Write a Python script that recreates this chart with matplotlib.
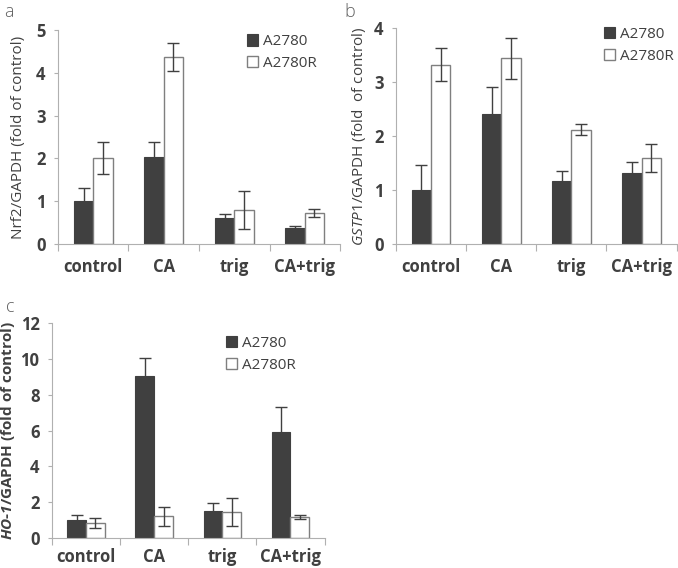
import matplotlib.pyplot as plt
import numpy as np

plt.rcParams['font.family'] = ['Open Sans', 'DejaVu Sans']
plt.rcParams['mathtext.fontset'] = 'custom'
plt.rcParams['mathtext.it'] = 'Open Sans:italic'
plt.rcParams['mathtext.rm'] = 'Open Sans'
has_bfit = 'mathtext.bfit' in plt.rcParams
if has_bfit:
    plt.rcParams['mathtext.bfit'] = 'Open Sans:italic:bold'

# Data
groups = ['control', 'CA', 'trig', 'CA+trig']
series = ['A2780', 'A2780R']

nrf2_a2780 = [1.0, 2.03, 0.6, 0.37]
nrf2_a2780_err = [0.3, 0.35, 0.11, 0.06]
nrf2_a2780r = [2.01, 4.37, 0.8, 0.72]
nrf2_a2780r_err = [0.38, 0.33, 0.45, 0.09]

gstp1_a2780 = [1.0, 2.4, 1.17, 1.31]
gstp1_a2780_err = [0.46, 0.51, 0.19, 0.21]
gstp1_a2780r = [3.32, 3.44, 2.12, 1.6]
gstp1_a2780r_err = [0.31, 0.38, 0.1, 0.26]

ho1_a2780 = [1.0, 9.05, 1.52, 5.9]
ho1_a2780_err = [0.28, 1.0, 0.45, 1.43]
ho1_a2780r = [0.85, 1.22, 1.44, 1.18]
ho1_a2780r_err = [0.27, 0.53, 0.78, 0.12]

dark = '#404040'
edge = '#7f7f7f'
txt = '#404040'
axis_col = '#b0b0b0'

fig = plt.figure(figsize=(6.78, 5.68), dpi=100)


def panel(rect, v1, e1, v2, e2, ymax, ystep, ylabel, ylab_x, ylab_weight,
          letter, letter_pos, leg_pos, xpad=10):
    ax = fig.add_axes(rect)
    idx = np.arange(len(groups)) + 0.5
    w = 0.275
    ax.bar(idx - w / 2, v1, w, color=dark, edgecolor=dark, linewidth=0.8,
           yerr=e1, error_kw=dict(ecolor=dark, capsize=4, elinewidth=1, capthick=1),
           label=series[0], zorder=2)
    ax.bar(idx + w / 2, v2, w, color='white', edgecolor=edge, linewidth=1,
           yerr=e2, error_kw=dict(ecolor=dark, capsize=4, elinewidth=1, capthick=1),
           label=series[1], zorder=2)
    ax.set_xlim(0, len(groups))
    ax.set_ylim(0, ymax)
    ax.set_yticks(np.arange(0, ymax + 0.01, ystep))
    ax.set_xticks(np.arange(len(groups) + 1))
    ax.set_xticklabels([])
    ax.set_xticks(idx, minor=True)
    ax.set_xticklabels(groups, minor=True, fontsize=12, fontweight='bold', color=txt)
    ax.tick_params(axis='x', which='minor', length=0, pad=xpad)
    ax.tick_params(axis='x', which='major', length=5, color=axis_col)
    ax.tick_params(axis='y', length=3, color=axis_col, labelsize=12, labelcolor=txt, pad=6)
    for t in ax.get_yticklabels():
        t.set_fontweight('bold')
    for s in ['top', 'right']:
        ax.spines[s].set_visible(False)
    for s in ['left', 'bottom']:
        ax.spines[s].set_color(axis_col)
    ax.set_ylabel(ylabel, fontsize=11, color=txt, fontweight=ylab_weight)
    ax.yaxis.set_label_coords(ylab_x, 0.5)
    fig.text(letter_pos[0], letter_pos[1], letter, fontsize=13, color='#606060',
             fontweight='light', va='top')
    leg = ax.legend(loc='upper left', bbox_to_anchor=leg_pos, frameon=False,
                    fontsize=11, handlelength=0.75, handleheight=0.75,
                    handletextpad=0.3, labelspacing=0.45, borderaxespad=0,
                    borderpad=0)
    for t in leg.get_texts():
        t.set_color(txt)
    return ax


panel([0.0855, 0.5704, 0.416, 0.3768], nrf2_a2780, nrf2_a2780_err,
      nrf2_a2780r, nrf2_a2780r_err, 5, 1, 'Nrf2/GAPDH (fold of control)',
      -0.115, 'normal', 'a', (0.006, 0.995), (0.67, 0.98))

panel([0.584, 0.5704, 0.414, 0.3803], gstp1_a2780, gstp1_a2780_err,
      gstp1_a2780r, gstp1_a2780r_err, 4, 1, r'$\mathit{GSTP1}$/GAPDH (fold  of control)',
      -0.099, 'normal', 'b', (0.508, 0.995), (0.74, 1.005))

ho_lab = r'$\mathbfit{HO}$-$\mathbfit{1}$/GAPDH (fold of control)' if has_bfit \
    else r'$\mathit{HO}$-$\mathit{1}$/GAPDH (fold of control)'
panel([0.0767, 0.0528, 0.402, 0.3785], ho1_a2780, ho1_a2780_err,
      ho1_a2780r, ho1_a2780r_err, 12, 2, ho_lab,
      -0.13, 'bold', 'c', (0.009, 0.475), (0.637, 0.94), xpad=7)

plt.savefig('out.png', dpi=100)
